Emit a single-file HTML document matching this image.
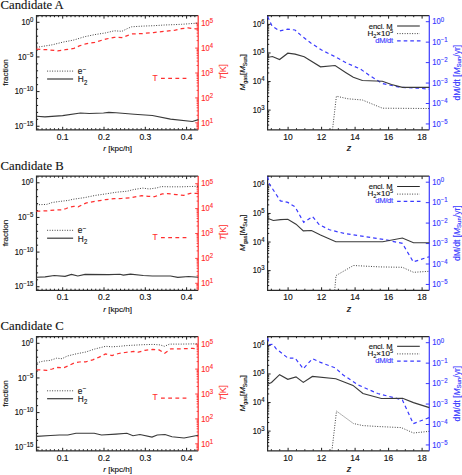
<!DOCTYPE html>
<html><head><meta charset="utf-8"><style>
html,body{margin:0;padding:0;background:#fff;width:462px;height:475px;overflow:hidden}
svg{display:block}
text{font-family:"Liberation Sans", sans-serif}
text.ser{font-family:"Liberation Serif", serif}
</style></head><body>
<svg width="462" height="475" viewBox="0 0 462 475">
<rect width="462" height="475" fill="#fff"/>
<g transform="translate(0,0.0)">
<g transform="translate(0.6,9.2)"><text x="0" y="0" class="ser" font-size="12.7" fill="#111" stroke="#111" stroke-width="0.12">Candidate A</text></g>
<path d="M37.92 129.80L37.92 128.20M37.92 15.60L37.92 17.20M42.05 129.80L42.05 128.20M42.05 15.60L42.05 17.20M46.18 129.80L46.18 128.20M46.18 15.60L46.18 17.20M50.31 129.80L50.31 128.20M50.31 15.60L50.31 17.20M54.44 129.80L54.44 128.20M54.44 15.60L54.44 17.20M58.57 129.80L58.57 128.20M58.57 15.60L58.57 17.20M62.70 129.80L62.70 126.80M62.70 15.60L62.70 18.60M66.83 129.80L66.83 128.20M66.83 15.60L66.83 17.20M70.96 129.80L70.96 128.20M70.96 15.60L70.96 17.20M75.09 129.80L75.09 128.20M75.09 15.60L75.09 17.20M79.22 129.80L79.22 128.20M79.22 15.60L79.22 17.20M83.35 129.80L83.35 128.20M83.35 15.60L83.35 17.20M87.48 129.80L87.48 128.20M87.48 15.60L87.48 17.20M91.61 129.80L91.61 128.20M91.61 15.60L91.61 17.20M95.74 129.80L95.74 128.20M95.74 15.60L95.74 17.20M99.87 129.80L99.87 128.20M99.87 15.60L99.87 17.20M104.00 129.80L104.00 126.80M104.00 15.60L104.00 18.60M108.13 129.80L108.13 128.20M108.13 15.60L108.13 17.20M112.26 129.80L112.26 128.20M112.26 15.60L112.26 17.20M116.39 129.80L116.39 128.20M116.39 15.60L116.39 17.20M120.52 129.80L120.52 128.20M120.52 15.60L120.52 17.20M124.65 129.80L124.65 128.20M124.65 15.60L124.65 17.20M128.78 129.80L128.78 128.20M128.78 15.60L128.78 17.20M132.91 129.80L132.91 128.20M132.91 15.60L132.91 17.20M137.04 129.80L137.04 128.20M137.04 15.60L137.04 17.20M141.17 129.80L141.17 128.20M141.17 15.60L141.17 17.20M145.30 129.80L145.30 126.80M145.30 15.60L145.30 18.60M149.43 129.80L149.43 128.20M149.43 15.60L149.43 17.20M153.56 129.80L153.56 128.20M153.56 15.60L153.56 17.20M157.69 129.80L157.69 128.20M157.69 15.60L157.69 17.20M161.82 129.80L161.82 128.20M161.82 15.60L161.82 17.20M165.95 129.80L165.95 128.20M165.95 15.60L165.95 17.20M170.08 129.80L170.08 128.20M170.08 15.60L170.08 17.20M174.21 129.80L174.21 128.20M174.21 15.60L174.21 17.20M178.34 129.80L178.34 128.20M178.34 15.60L178.34 17.20M182.47 129.80L182.47 128.20M182.47 15.60L182.47 17.20M186.60 129.80L186.60 126.80M186.60 15.60L186.60 18.60M190.73 129.80L190.73 128.20M190.73 15.60L190.73 17.20M194.86 129.80L194.86 128.20M194.86 15.60L194.86 17.20M36.50 22.30L39.50 22.30M36.50 29.23L38.10 29.23M36.50 36.16L38.10 36.16M36.50 43.09L38.10 43.09M36.50 50.02L38.10 50.02M36.50 56.95L39.50 56.95M36.50 63.88L38.10 63.88M36.50 70.81L38.10 70.81M36.50 77.74L38.10 77.74M36.50 84.67L38.10 84.67M36.50 91.60L39.50 91.60M36.50 98.53L38.10 98.53M36.50 105.46L38.10 105.46M36.50 112.39L38.10 112.39M36.50 119.32L38.10 119.32M36.50 126.25L39.50 126.25" stroke="#000" stroke-width="0.9" fill="none"/>
<path d="M198.20 122.80L195.20 122.80M198.20 115.30L196.60 115.30M198.20 110.92L196.60 110.92M198.20 107.81L196.60 107.81M198.20 105.40L196.60 105.40M198.20 103.42L196.60 103.42M198.20 101.76L196.60 101.76M198.20 100.31L196.60 100.31M198.20 99.04L196.60 99.04M198.20 97.90L195.20 97.90M198.20 90.40L196.60 90.40M198.20 86.02L196.60 86.02M198.20 82.91L196.60 82.91M198.20 80.50L196.60 80.50M198.20 78.52L196.60 78.52M198.20 76.86L196.60 76.86M198.20 75.41L196.60 75.41M198.20 74.14L196.60 74.14M198.20 73.00L195.20 73.00M198.20 65.50L196.60 65.50M198.20 61.12L196.60 61.12M198.20 58.01L196.60 58.01M198.20 55.60L196.60 55.60M198.20 53.62L196.60 53.62M198.20 51.96L196.60 51.96M198.20 50.51L196.60 50.51M198.20 49.24L196.60 49.24M198.20 48.10L195.20 48.10M198.20 40.60L196.60 40.60M198.20 36.22L196.60 36.22M198.20 33.11L196.60 33.11M198.20 30.70L196.60 30.70M198.20 28.72L196.60 28.72M198.20 27.06L196.60 27.06M198.20 25.61L196.60 25.61M198.20 24.34L196.60 24.34M198.20 23.20L195.20 23.20M198.20 128.32L196.40 128.32M198.20 126.66L196.40 126.66M198.20 125.21L196.40 125.21M198.20 123.94L196.40 123.94" stroke="#ff3030" stroke-width="0.9" fill="none"/>
<path d="M198.2 15.6H36.5V129.8H198.2" stroke="#2a2a2a" stroke-width="1.2" fill="none"/>
<path d="M198.2 15.6V129.8" stroke="#ff3030" stroke-width="1.2" fill="none"/>
<polyline points="36.5,47.2 38.7,47.0 52.2,44.8 63.0,42.1 73.9,40.0 84.7,36.7 94.8,34.6 105.6,32.9 114.3,30.8 121.9,31.3 127.3,28.6 131.6,26.8 142.8,26.1 153.6,25.7 164.5,25.0 175.3,24.6 181.6,24.3 192.5,23.5 198.2,23.1" stroke="#444" stroke-width="1" stroke-dasharray="1 1.5" fill="none"/>
<polyline points="36.5,49.2 46.8,49.7 57.6,50.8 65.2,49.7 73.9,48.4 79.3,45.9 85.8,43.8 94.8,42.4 105.6,39.1 114.3,37.3 121.9,37.6 127.3,35.6 131.6,34.0 142.8,33.5 153.6,32.6 164.5,31.3 175.3,30.2 181.6,28.6 188.1,27.9 195.7,28.9 198.2,29.2" stroke="#ff3030" stroke-width="1.25" stroke-dasharray="3.8 3.2" fill="none"/>
<polyline points="36.5,116.3 44.9,116.9 62.6,115.6 80.4,113.0 89.3,113.5 103.5,113.0 108.8,112.4 116.0,112.7 134.2,114.2 152.4,115.5 170.5,119.1 192.4,121.5 198.4,119.6" stroke="#3a3a3a" stroke-width="1.15" fill="none"/>
<g transform="translate(0,0.3)">
<path d="M47.1 70.8H73.1" stroke="#444" stroke-width="1" stroke-dasharray="1 1.5"/>
<path d="M47.1 78.7H73.1" stroke="#3a3a3a" stroke-width="1.2"/>
<text x="77.7" y="73.8" font-size="8.3" fill="#111" stroke="#111" stroke-width="0.14">e<tspan font-size="6.2" dy="-2.5" dx="0.4">&#8722;</tspan></text>
<g transform="translate(77.7,82) scale(1,1.08)"><text x="0" y="0" font-size="8.3" fill="#111" stroke="#111" stroke-width="0.14">H<tspan font-size="6" dy="2.2" dx="0.3">2</tspan></text></g>
<text x="152.6" y="80.3" font-size="8.5" fill="#ff3030" stroke="#ff3030" stroke-width="0.14">T</text>
<path d="M161 78.1H187" stroke="#ff3030" stroke-width="1.25" stroke-dasharray="3.8 3.4"/>
</g>
<g transform="translate(33.30,24.90) scale(1,1.12)"><text x="0" y="0" fill="#111" font-size="7.6" text-anchor="end" stroke="#111" stroke-width="0.14">10<tspan font-size="6.0" dy="-2.55">0</tspan></text></g>
<g transform="translate(33.30,59.55) scale(1,1.12)"><text x="0" y="0" fill="#111" font-size="7.6" text-anchor="end" stroke="#111" stroke-width="0.14">10<tspan font-size="6.0" dy="-2.55">&#8722;5</tspan></text></g>
<g transform="translate(33.30,94.20) scale(1,1.12)"><text x="0" y="0" fill="#111" font-size="7.6" text-anchor="end" stroke="#111" stroke-width="0.14">10<tspan font-size="6.0" dy="-2.55">&#8722;10</tspan></text></g>
<g transform="translate(33.30,128.85) scale(1,1.12)"><text x="0" y="0" fill="#111" font-size="7.6" text-anchor="end" stroke="#111" stroke-width="0.14">10<tspan font-size="6.0" dy="-2.55">&#8722;15</tspan></text></g>
<text transform="translate(7.9,72.6) rotate(-90)" font-size="8.1" text-anchor="middle" fill="#111" stroke="#111" stroke-width="0.14">fraction</text>
<text x="62.7" y="139.8" font-size="8.5" text-anchor="middle" fill="#111" stroke="#111" stroke-width="0.14">0.1</text>
<text x="104.0" y="139.8" font-size="8.5" text-anchor="middle" fill="#111" stroke="#111" stroke-width="0.14">0.2</text>
<text x="145.3" y="139.8" font-size="8.5" text-anchor="middle" fill="#111" stroke="#111" stroke-width="0.14">0.3</text>
<text x="186.6" y="139.8" font-size="8.5" text-anchor="middle" fill="#111" stroke="#111" stroke-width="0.14">0.4</text>
<text x="117.6" y="151.2" font-size="8.1" text-anchor="middle" fill="#111" stroke="#111" stroke-width="0.14"><tspan font-style="italic">r</tspan> [kpc/h]</text>
<g transform="translate(201.30,125.55) scale(1,1.12)"><text x="0" y="0" fill="#ff3030" font-size="7.6" text-anchor="start" stroke="#ff3030" stroke-width="0.14">10<tspan font-size="6.0" dy="-2.55">1</tspan></text></g>
<g transform="translate(201.30,100.65) scale(1,1.12)"><text x="0" y="0" fill="#ff3030" font-size="7.6" text-anchor="start" stroke="#ff3030" stroke-width="0.14">10<tspan font-size="6.0" dy="-2.55">2</tspan></text></g>
<g transform="translate(201.30,75.75) scale(1,1.12)"><text x="0" y="0" fill="#ff3030" font-size="7.6" text-anchor="start" stroke="#ff3030" stroke-width="0.14">10<tspan font-size="6.0" dy="-2.55">3</tspan></text></g>
<g transform="translate(201.30,50.85) scale(1,1.12)"><text x="0" y="0" fill="#ff3030" font-size="7.6" text-anchor="start" stroke="#ff3030" stroke-width="0.14">10<tspan font-size="6.0" dy="-2.55">4</tspan></text></g>
<g transform="translate(201.30,25.95) scale(1,1.12)"><text x="0" y="0" fill="#ff3030" font-size="7.6" text-anchor="start" stroke="#ff3030" stroke-width="0.14">10<tspan font-size="6.0" dy="-2.55">5</tspan></text></g>
<text transform="translate(225.5,72) rotate(-90)" font-size="8.5" text-anchor="middle" fill="#ff3030" stroke="#ff3030" stroke-width="0.14"><tspan font-style="italic">T</tspan>[K]</text>
<path d="M271.35 129.80L271.35 128.20M271.35 15.60L271.35 17.20M279.73 129.80L279.73 128.20M279.73 15.60L279.73 17.20M288.10 129.80L288.10 126.80M288.10 15.60L288.10 18.60M296.48 129.80L296.48 128.20M296.48 15.60L296.48 17.20M304.85 129.80L304.85 128.20M304.85 15.60L304.85 17.20M313.23 129.80L313.23 128.20M313.23 15.60L313.23 17.20M321.60 129.80L321.60 126.80M321.60 15.60L321.60 18.60M329.98 129.80L329.98 128.20M329.98 15.60L329.98 17.20M338.35 129.80L338.35 128.20M338.35 15.60L338.35 17.20M346.73 129.80L346.73 128.20M346.73 15.60L346.73 17.20M355.10 129.80L355.10 126.80M355.10 15.60L355.10 18.60M363.48 129.80L363.48 128.20M363.48 15.60L363.48 17.20M371.85 129.80L371.85 128.20M371.85 15.60L371.85 17.20M380.23 129.80L380.23 128.20M380.23 15.60L380.23 17.20M388.60 129.80L388.60 126.80M388.60 15.60L388.60 18.60M396.98 129.80L396.98 128.20M396.98 15.60L396.98 17.20M405.35 129.80L405.35 128.20M405.35 15.60L405.35 17.20M413.73 129.80L413.73 128.20M413.73 15.60L413.73 17.20M422.10 129.80L422.10 126.80M422.10 15.60L422.10 18.60M267.60 125.05L269.20 125.05M267.60 121.48L269.20 121.48M267.60 118.71L269.20 118.71M267.60 116.45L269.20 116.45M267.60 114.54L269.20 114.54M267.60 112.88L269.20 112.88M267.60 111.42L269.20 111.42M267.60 110.11L270.60 110.11M267.60 101.51L269.20 101.51M267.60 96.48L269.20 96.48M267.60 92.91L269.20 92.91M267.60 90.14L269.20 90.14M267.60 87.88L269.20 87.88M267.60 85.97L269.20 85.97M267.60 84.31L269.20 84.31M267.60 82.85L269.20 82.85M267.60 81.54L270.60 81.54M267.60 72.94L269.20 72.94M267.60 67.91L269.20 67.91M267.60 64.34L269.20 64.34M267.60 61.57L269.20 61.57M267.60 59.31L269.20 59.31M267.60 57.40L269.20 57.40M267.60 55.74L269.20 55.74M267.60 54.28L269.20 54.28M267.60 52.97L270.60 52.97M267.60 44.37L269.20 44.37M267.60 39.34L269.20 39.34M267.60 35.77L269.20 35.77M267.60 33.00L269.20 33.00M267.60 30.74L269.20 30.74M267.60 28.83L269.20 28.83M267.60 27.17L269.20 27.17M267.60 25.71L269.20 25.71M267.60 24.40L270.60 24.40M267.60 15.80L269.20 15.80" stroke="#000" stroke-width="0.9" fill="none"/>
<path d="M429.30 21.70L425.80 21.70M429.30 42.15L425.80 42.15M429.30 62.60L425.80 62.60M429.30 83.05L425.80 83.05M429.30 103.50L425.80 103.50M429.30 123.95L425.80 123.95" stroke="#3a3aff" stroke-width="1.0" fill="none"/>
<path d="M429.3 15.6H267.6V129.8H429.3" stroke="#2a2a2a" stroke-width="1.2" fill="none"/>
<path d="M429.3 15.6V129.8" stroke="#3a3aff" stroke-width="1.2" fill="none"/>
<polyline points="267.6,16.6 272.0,26.0 279.5,31.0 287.5,29.2 295.0,30.0 300.5,34.9 310.8,43.0 321.6,50.0 334.6,56.5 347.6,63.5 360.5,69.1 369.6,75.5 382.4,83.6 400.5,87.3 418.7,88.2 429.3,89.1" stroke="#3a3aff" stroke-width="1.2" stroke-dasharray="3.6 3" fill="none"/>
<polyline points="267.6,54.1 268.7,57.2 272.4,56.5 279.6,59.5 287.8,53.2 295.1,54.1 304.2,56.8 320.5,66.8 335.1,65.5 346.0,72.7 353.3,77.3 362.4,80.5 382.4,81.3 391.5,84.5 402.4,87.3 429.3,87.3" stroke="#3a3a3a" stroke-width="1.15" fill="none"/>
<polyline points="332.5,129.8 336.4,96.2 348.0,98.8 362.4,100.0 382.4,108.2 429.3,108.5" stroke="#444" stroke-width="1" stroke-dasharray="1 1.5" fill="none"/>
<g transform="translate(0,0)">
<text x="392.6" y="28.8" font-size="7.6" letter-spacing="-0.1" text-anchor="end" fill="#111" stroke="#111" stroke-width="0.14">encl. M</text>
<path d="M397.1 26H419.8" stroke="#2a2a2a" stroke-width="1.05"/>
<text x="393" y="35.8" font-size="8" text-anchor="end" fill="#111" stroke="#111" stroke-width="0.14">H<tspan font-size="5.5" dy="1.8">2</tspan><tspan dy="-1.8">&#215;10</tspan><tspan font-size="5.5" dy="-3.2">5</tspan></text>
<path d="M397.1 33.6H419.8" stroke="#444" stroke-width="1" stroke-dasharray="1 1.5"/>
<text x="392.8" y="42.6" font-size="7.6" letter-spacing="-0.3" text-anchor="end" fill="#3a3aff" stroke="#3a3aff" stroke-width="0.14">dM/dt</text>
<path d="M397.1 40.8H421" stroke="#3a3aff" stroke-width="1.2" stroke-dasharray="3.6 3"/>
</g>
<g transform="translate(264.50,112.61) scale(1,1.12)"><text x="0" y="0" fill="#111" font-size="7.6" text-anchor="end" stroke="#111" stroke-width="0.14">10<tspan font-size="6.0" dy="-2.55">3</tspan></text></g>
<g transform="translate(264.50,84.04) scale(1,1.12)"><text x="0" y="0" fill="#111" font-size="7.6" text-anchor="end" stroke="#111" stroke-width="0.14">10<tspan font-size="6.0" dy="-2.55">4</tspan></text></g>
<g transform="translate(264.50,55.47) scale(1,1.12)"><text x="0" y="0" fill="#111" font-size="7.6" text-anchor="end" stroke="#111" stroke-width="0.14">10<tspan font-size="6.0" dy="-2.55">5</tspan></text></g>
<g transform="translate(264.50,26.90) scale(1,1.12)"><text x="0" y="0" fill="#111" font-size="7.6" text-anchor="end" stroke="#111" stroke-width="0.14">10<tspan font-size="6.0" dy="-2.55">6</tspan></text></g>
<text transform="translate(245.2,72.4) rotate(-90)" font-size="8" text-anchor="middle" fill="#111" stroke="#111" stroke-width="0.14"><tspan font-style="italic">M</tspan><tspan font-size="5.4" dy="1.6">gas</tspan><tspan dy="-1.6">[</tspan><tspan font-style="italic">M</tspan><tspan font-size="5.4" dy="1.6">Sun</tspan><tspan dy="-1.6">]</tspan></text>
<text x="288.1" y="139.8" font-size="8.5" text-anchor="middle" fill="#111" stroke="#111" stroke-width="0.14">10</text>
<text x="321.6" y="139.8" font-size="8.5" text-anchor="middle" fill="#111" stroke="#111" stroke-width="0.14">12</text>
<text x="355.1" y="139.8" font-size="8.5" text-anchor="middle" fill="#111" stroke="#111" stroke-width="0.14">14</text>
<text x="388.6" y="139.8" font-size="8.5" text-anchor="middle" fill="#111" stroke="#111" stroke-width="0.14">16</text>
<text x="422.1" y="139.8" font-size="8.5" text-anchor="middle" fill="#111" stroke="#111" stroke-width="0.14">18</text>
<text x="349" y="151.2" font-size="9" font-style="italic" text-anchor="middle" fill="#111" stroke="#111" stroke-width="0.14">z</text>
<g transform="translate(432.20,24.40) scale(1,1.12)"><text x="0" y="0" fill="#3a3aff" font-size="7.6" text-anchor="start" stroke="#3a3aff" stroke-width="0.14">10<tspan font-size="6.0" dy="-2.55">0</tspan></text></g>
<g transform="translate(432.20,44.85) scale(1,1.12)"><text x="0" y="0" fill="#3a3aff" font-size="7.6" text-anchor="start" stroke="#3a3aff" stroke-width="0.14">10<tspan font-size="6.0" dy="-2.55">&#8722;1</tspan></text></g>
<g transform="translate(432.20,65.30) scale(1,1.12)"><text x="0" y="0" fill="#3a3aff" font-size="7.6" text-anchor="start" stroke="#3a3aff" stroke-width="0.14">10<tspan font-size="6.0" dy="-2.55">&#8722;2</tspan></text></g>
<g transform="translate(432.20,85.75) scale(1,1.12)"><text x="0" y="0" fill="#3a3aff" font-size="7.6" text-anchor="start" stroke="#3a3aff" stroke-width="0.14">10<tspan font-size="6.0" dy="-2.55">&#8722;3</tspan></text></g>
<g transform="translate(432.20,106.20) scale(1,1.12)"><text x="0" y="0" fill="#3a3aff" font-size="7.6" text-anchor="start" stroke="#3a3aff" stroke-width="0.14">10<tspan font-size="6.0" dy="-2.55">&#8722;4</tspan></text></g>
<g transform="translate(432.20,126.65) scale(1,1.12)"><text x="0" y="0" fill="#3a3aff" font-size="7.6" text-anchor="start" stroke="#3a3aff" stroke-width="0.14">10<tspan font-size="6.0" dy="-2.55">&#8722;5</tspan></text></g>
<text transform="translate(459.5,72.7) rotate(-90)" font-size="8.5" text-anchor="middle" fill="#3a3aff" stroke="#3a3aff" stroke-width="0.14">dM/dt [<tspan font-style="italic">M</tspan><tspan font-size="6" dy="1.8">Sun</tspan><tspan dy="-1.8">/yr]</tspan></text>
</g>
<g transform="translate(0,160.5)">
<g transform="translate(0.6,9.2)"><text x="0" y="0" class="ser" font-size="12.7" fill="#111" stroke="#111" stroke-width="0.12">Candidate B</text></g>
<path d="M37.92 129.80L37.92 128.20M37.92 15.60L37.92 17.20M42.05 129.80L42.05 128.20M42.05 15.60L42.05 17.20M46.18 129.80L46.18 128.20M46.18 15.60L46.18 17.20M50.31 129.80L50.31 128.20M50.31 15.60L50.31 17.20M54.44 129.80L54.44 128.20M54.44 15.60L54.44 17.20M58.57 129.80L58.57 128.20M58.57 15.60L58.57 17.20M62.70 129.80L62.70 126.80M62.70 15.60L62.70 18.60M66.83 129.80L66.83 128.20M66.83 15.60L66.83 17.20M70.96 129.80L70.96 128.20M70.96 15.60L70.96 17.20M75.09 129.80L75.09 128.20M75.09 15.60L75.09 17.20M79.22 129.80L79.22 128.20M79.22 15.60L79.22 17.20M83.35 129.80L83.35 128.20M83.35 15.60L83.35 17.20M87.48 129.80L87.48 128.20M87.48 15.60L87.48 17.20M91.61 129.80L91.61 128.20M91.61 15.60L91.61 17.20M95.74 129.80L95.74 128.20M95.74 15.60L95.74 17.20M99.87 129.80L99.87 128.20M99.87 15.60L99.87 17.20M104.00 129.80L104.00 126.80M104.00 15.60L104.00 18.60M108.13 129.80L108.13 128.20M108.13 15.60L108.13 17.20M112.26 129.80L112.26 128.20M112.26 15.60L112.26 17.20M116.39 129.80L116.39 128.20M116.39 15.60L116.39 17.20M120.52 129.80L120.52 128.20M120.52 15.60L120.52 17.20M124.65 129.80L124.65 128.20M124.65 15.60L124.65 17.20M128.78 129.80L128.78 128.20M128.78 15.60L128.78 17.20M132.91 129.80L132.91 128.20M132.91 15.60L132.91 17.20M137.04 129.80L137.04 128.20M137.04 15.60L137.04 17.20M141.17 129.80L141.17 128.20M141.17 15.60L141.17 17.20M145.30 129.80L145.30 126.80M145.30 15.60L145.30 18.60M149.43 129.80L149.43 128.20M149.43 15.60L149.43 17.20M153.56 129.80L153.56 128.20M153.56 15.60L153.56 17.20M157.69 129.80L157.69 128.20M157.69 15.60L157.69 17.20M161.82 129.80L161.82 128.20M161.82 15.60L161.82 17.20M165.95 129.80L165.95 128.20M165.95 15.60L165.95 17.20M170.08 129.80L170.08 128.20M170.08 15.60L170.08 17.20M174.21 129.80L174.21 128.20M174.21 15.60L174.21 17.20M178.34 129.80L178.34 128.20M178.34 15.60L178.34 17.20M182.47 129.80L182.47 128.20M182.47 15.60L182.47 17.20M186.60 129.80L186.60 126.80M186.60 15.60L186.60 18.60M190.73 129.80L190.73 128.20M190.73 15.60L190.73 17.20M194.86 129.80L194.86 128.20M194.86 15.60L194.86 17.20M36.50 22.30L39.50 22.30M36.50 29.23L38.10 29.23M36.50 36.16L38.10 36.16M36.50 43.09L38.10 43.09M36.50 50.02L38.10 50.02M36.50 56.95L39.50 56.95M36.50 63.88L38.10 63.88M36.50 70.81L38.10 70.81M36.50 77.74L38.10 77.74M36.50 84.67L38.10 84.67M36.50 91.60L39.50 91.60M36.50 98.53L38.10 98.53M36.50 105.46L38.10 105.46M36.50 112.39L38.10 112.39M36.50 119.32L38.10 119.32M36.50 126.25L39.50 126.25" stroke="#000" stroke-width="0.9" fill="none"/>
<path d="M198.20 122.80L195.20 122.80M198.20 115.30L196.60 115.30M198.20 110.92L196.60 110.92M198.20 107.81L196.60 107.81M198.20 105.40L196.60 105.40M198.20 103.42L196.60 103.42M198.20 101.76L196.60 101.76M198.20 100.31L196.60 100.31M198.20 99.04L196.60 99.04M198.20 97.90L195.20 97.90M198.20 90.40L196.60 90.40M198.20 86.02L196.60 86.02M198.20 82.91L196.60 82.91M198.20 80.50L196.60 80.50M198.20 78.52L196.60 78.52M198.20 76.86L196.60 76.86M198.20 75.41L196.60 75.41M198.20 74.14L196.60 74.14M198.20 73.00L195.20 73.00M198.20 65.50L196.60 65.50M198.20 61.12L196.60 61.12M198.20 58.01L196.60 58.01M198.20 55.60L196.60 55.60M198.20 53.62L196.60 53.62M198.20 51.96L196.60 51.96M198.20 50.51L196.60 50.51M198.20 49.24L196.60 49.24M198.20 48.10L195.20 48.10M198.20 40.60L196.60 40.60M198.20 36.22L196.60 36.22M198.20 33.11L196.60 33.11M198.20 30.70L196.60 30.70M198.20 28.72L196.60 28.72M198.20 27.06L196.60 27.06M198.20 25.61L196.60 25.61M198.20 24.34L196.60 24.34M198.20 23.20L195.20 23.20M198.20 128.32L196.40 128.32M198.20 126.66L196.40 126.66M198.20 125.21L196.40 125.21M198.20 123.94L196.40 123.94" stroke="#ff3030" stroke-width="0.9" fill="none"/>
<path d="M198.2 15.6H36.5V129.8H198.2" stroke="#2a2a2a" stroke-width="1.2" fill="none"/>
<path d="M198.2 15.6V129.8" stroke="#ff3030" stroke-width="1.2" fill="none"/>
<polyline points="36.5,44.3 38.2,44.2 46.8,43.9 52.2,42.0 59.8,40.9 68.5,39.9 72.8,38.8 84.7,37.1 94.8,35.0 105.6,33.4 116.5,31.7 127.3,30.7 133.8,29.0 142.8,27.6 149.3,28.5 156.9,27.4 161.2,26.1 169.9,26.3 181.8,26.3 190.3,26.0 198.2,25.8" stroke="#444" stroke-width="1" stroke-dasharray="1 1.5" fill="none"/>
<polyline points="36.5,50.8 38.2,50.7 46.8,50.3 54.4,49.6 62.0,49.3 66.3,48.0 68.5,46.9 73.9,45.8 78.2,46.3 81.5,44.7 85.8,42.6 94.8,40.9 105.6,39.1 114.3,38.2 121.9,37.9 129.5,37.4 133.8,36.6 141.7,35.2 148.2,35.8 154.7,36.1 162.3,33.4 167.7,33.1 176.2,34.1 183.8,34.8 190.3,32.8 198.2,32.8" stroke="#ff3030" stroke-width="1.25" stroke-dasharray="3.8 3.2" fill="none"/>
<polyline points="36.5,116.8 45.1,116.4 54.2,115.0 65.1,115.9 71.5,113.9 77.8,115.5 85.1,113.9 108.7,114.1 120.0,113.8 123.3,114.6 130.5,113.7 143.3,115.0 152.4,115.5 170.5,115.5 177.8,116.8 188.7,116.0 198.2,116.8" stroke="#3a3a3a" stroke-width="1.15" fill="none"/>
<g transform="translate(0,-1.0)">
<path d="M47.1 70.8H73.1" stroke="#444" stroke-width="1" stroke-dasharray="1 1.5"/>
<path d="M47.1 78.7H73.1" stroke="#3a3a3a" stroke-width="1.2"/>
<text x="77.7" y="73.8" font-size="8.3" fill="#111" stroke="#111" stroke-width="0.14">e<tspan font-size="6.2" dy="-2.5" dx="0.4">&#8722;</tspan></text>
<g transform="translate(77.7,82) scale(1,1.08)"><text x="0" y="0" font-size="8.3" fill="#111" stroke="#111" stroke-width="0.14">H<tspan font-size="6" dy="2.2" dx="0.3">2</tspan></text></g>
<text x="152.6" y="80.3" font-size="8.5" fill="#ff3030" stroke="#ff3030" stroke-width="0.14">T</text>
<path d="M161 78.1H187" stroke="#ff3030" stroke-width="1.25" stroke-dasharray="3.8 3.4"/>
</g>
<g transform="translate(33.30,24.90) scale(1,1.12)"><text x="0" y="0" fill="#111" font-size="7.6" text-anchor="end" stroke="#111" stroke-width="0.14">10<tspan font-size="6.0" dy="-2.55">0</tspan></text></g>
<g transform="translate(33.30,59.55) scale(1,1.12)"><text x="0" y="0" fill="#111" font-size="7.6" text-anchor="end" stroke="#111" stroke-width="0.14">10<tspan font-size="6.0" dy="-2.55">&#8722;5</tspan></text></g>
<g transform="translate(33.30,94.20) scale(1,1.12)"><text x="0" y="0" fill="#111" font-size="7.6" text-anchor="end" stroke="#111" stroke-width="0.14">10<tspan font-size="6.0" dy="-2.55">&#8722;10</tspan></text></g>
<g transform="translate(33.30,128.85) scale(1,1.12)"><text x="0" y="0" fill="#111" font-size="7.6" text-anchor="end" stroke="#111" stroke-width="0.14">10<tspan font-size="6.0" dy="-2.55">&#8722;15</tspan></text></g>
<text transform="translate(7.9,72.6) rotate(-90)" font-size="8.1" text-anchor="middle" fill="#111" stroke="#111" stroke-width="0.14">fraction</text>
<text x="62.7" y="139.8" font-size="8.5" text-anchor="middle" fill="#111" stroke="#111" stroke-width="0.14">0.1</text>
<text x="104.0" y="139.8" font-size="8.5" text-anchor="middle" fill="#111" stroke="#111" stroke-width="0.14">0.2</text>
<text x="145.3" y="139.8" font-size="8.5" text-anchor="middle" fill="#111" stroke="#111" stroke-width="0.14">0.3</text>
<text x="186.6" y="139.8" font-size="8.5" text-anchor="middle" fill="#111" stroke="#111" stroke-width="0.14">0.4</text>
<text x="117.6" y="151.2" font-size="8.1" text-anchor="middle" fill="#111" stroke="#111" stroke-width="0.14"><tspan font-style="italic">r</tspan> [kpc/h]</text>
<g transform="translate(201.30,125.55) scale(1,1.12)"><text x="0" y="0" fill="#ff3030" font-size="7.6" text-anchor="start" stroke="#ff3030" stroke-width="0.14">10<tspan font-size="6.0" dy="-2.55">1</tspan></text></g>
<g transform="translate(201.30,100.65) scale(1,1.12)"><text x="0" y="0" fill="#ff3030" font-size="7.6" text-anchor="start" stroke="#ff3030" stroke-width="0.14">10<tspan font-size="6.0" dy="-2.55">2</tspan></text></g>
<g transform="translate(201.30,75.75) scale(1,1.12)"><text x="0" y="0" fill="#ff3030" font-size="7.6" text-anchor="start" stroke="#ff3030" stroke-width="0.14">10<tspan font-size="6.0" dy="-2.55">3</tspan></text></g>
<g transform="translate(201.30,50.85) scale(1,1.12)"><text x="0" y="0" fill="#ff3030" font-size="7.6" text-anchor="start" stroke="#ff3030" stroke-width="0.14">10<tspan font-size="6.0" dy="-2.55">4</tspan></text></g>
<g transform="translate(201.30,25.95) scale(1,1.12)"><text x="0" y="0" fill="#ff3030" font-size="7.6" text-anchor="start" stroke="#ff3030" stroke-width="0.14">10<tspan font-size="6.0" dy="-2.55">5</tspan></text></g>
<text transform="translate(225.5,72) rotate(-90)" font-size="8.5" text-anchor="middle" fill="#ff3030" stroke="#ff3030" stroke-width="0.14"><tspan font-style="italic">T</tspan>[K]</text>
<path d="M271.35 129.80L271.35 128.20M271.35 15.60L271.35 17.20M279.73 129.80L279.73 128.20M279.73 15.60L279.73 17.20M288.10 129.80L288.10 126.80M288.10 15.60L288.10 18.60M296.48 129.80L296.48 128.20M296.48 15.60L296.48 17.20M304.85 129.80L304.85 128.20M304.85 15.60L304.85 17.20M313.23 129.80L313.23 128.20M313.23 15.60L313.23 17.20M321.60 129.80L321.60 126.80M321.60 15.60L321.60 18.60M329.98 129.80L329.98 128.20M329.98 15.60L329.98 17.20M338.35 129.80L338.35 128.20M338.35 15.60L338.35 17.20M346.73 129.80L346.73 128.20M346.73 15.60L346.73 17.20M355.10 129.80L355.10 126.80M355.10 15.60L355.10 18.60M363.48 129.80L363.48 128.20M363.48 15.60L363.48 17.20M371.85 129.80L371.85 128.20M371.85 15.60L371.85 17.20M380.23 129.80L380.23 128.20M380.23 15.60L380.23 17.20M388.60 129.80L388.60 126.80M388.60 15.60L388.60 18.60M396.98 129.80L396.98 128.20M396.98 15.60L396.98 17.20M405.35 129.80L405.35 128.20M405.35 15.60L405.35 17.20M413.73 129.80L413.73 128.20M413.73 15.60L413.73 17.20M422.10 129.80L422.10 126.80M422.10 15.60L422.10 18.60M267.60 125.05L269.20 125.05M267.60 121.48L269.20 121.48M267.60 118.71L269.20 118.71M267.60 116.45L269.20 116.45M267.60 114.54L269.20 114.54M267.60 112.88L269.20 112.88M267.60 111.42L269.20 111.42M267.60 110.11L270.60 110.11M267.60 101.51L269.20 101.51M267.60 96.48L269.20 96.48M267.60 92.91L269.20 92.91M267.60 90.14L269.20 90.14M267.60 87.88L269.20 87.88M267.60 85.97L269.20 85.97M267.60 84.31L269.20 84.31M267.60 82.85L269.20 82.85M267.60 81.54L270.60 81.54M267.60 72.94L269.20 72.94M267.60 67.91L269.20 67.91M267.60 64.34L269.20 64.34M267.60 61.57L269.20 61.57M267.60 59.31L269.20 59.31M267.60 57.40L269.20 57.40M267.60 55.74L269.20 55.74M267.60 54.28L269.20 54.28M267.60 52.97L270.60 52.97M267.60 44.37L269.20 44.37M267.60 39.34L269.20 39.34M267.60 35.77L269.20 35.77M267.60 33.00L269.20 33.00M267.60 30.74L269.20 30.74M267.60 28.83L269.20 28.83M267.60 27.17L269.20 27.17M267.60 25.71L269.20 25.71M267.60 24.40L270.60 24.40M267.60 15.80L269.20 15.80" stroke="#000" stroke-width="0.9" fill="none"/>
<path d="M429.30 21.70L425.80 21.70M429.30 42.15L425.80 42.15M429.30 62.60L425.80 62.60M429.30 83.05L425.80 83.05M429.30 103.50L425.80 103.50M429.30 123.95L425.80 123.95" stroke="#3a3aff" stroke-width="1.0" fill="none"/>
<path d="M429.3 15.6H267.6V129.8H429.3" stroke="#2a2a2a" stroke-width="1.2" fill="none"/>
<path d="M429.3 15.6V129.8" stroke="#3a3aff" stroke-width="1.2" fill="none"/>
<polyline points="267.6,16.2 269.4,23.5 280.4,40.4 287.8,41.9 295.1,46.4 303.7,61.9 312.5,56.0 319.1,64.1 329.5,69.3 344.2,72.9 365.4,76.2 385.1,79.2 402.4,82.9 413.3,101.4 429.3,96.2" stroke="#3a3aff" stroke-width="1.2" stroke-dasharray="3.6 3" fill="none"/>
<polyline points="267.6,57.7 273.3,60.0 280.5,59.1 287.8,58.8 296.0,63.7 303.3,70.4 311.5,70.0 320.5,74.6 335.8,81.2 382.7,81.2 402.4,77.5 413.5,82.2 429.3,82.2" stroke="#3a3a3a" stroke-width="1.15" fill="none"/>
<polyline points="334.7,129.8 336.0,115.1 353.4,105.0 379.7,106.4 402.4,106.8 413.5,111.8 429.3,110.8" stroke="#444" stroke-width="1" stroke-dasharray="1 1.5" fill="none"/>
<g transform="translate(0,0)">
<text x="392.6" y="28.8" font-size="7.6" letter-spacing="-0.1" text-anchor="end" fill="#111" stroke="#111" stroke-width="0.14">encl. M</text>
<path d="M397.1 26H419.8" stroke="#2a2a2a" stroke-width="1.05"/>
<text x="393" y="35.8" font-size="8" text-anchor="end" fill="#111" stroke="#111" stroke-width="0.14">H<tspan font-size="5.5" dy="1.8">2</tspan><tspan dy="-1.8">&#215;10</tspan><tspan font-size="5.5" dy="-3.2">5</tspan></text>
<path d="M397.1 33.6H419.8" stroke="#444" stroke-width="1" stroke-dasharray="1 1.5"/>
<text x="392.8" y="42.6" font-size="7.6" letter-spacing="-0.3" text-anchor="end" fill="#3a3aff" stroke="#3a3aff" stroke-width="0.14">dM/dt</text>
<path d="M397.1 40.8H421" stroke="#3a3aff" stroke-width="1.2" stroke-dasharray="3.6 3"/>
</g>
<g transform="translate(264.50,112.61) scale(1,1.12)"><text x="0" y="0" fill="#111" font-size="7.6" text-anchor="end" stroke="#111" stroke-width="0.14">10<tspan font-size="6.0" dy="-2.55">3</tspan></text></g>
<g transform="translate(264.50,84.04) scale(1,1.12)"><text x="0" y="0" fill="#111" font-size="7.6" text-anchor="end" stroke="#111" stroke-width="0.14">10<tspan font-size="6.0" dy="-2.55">4</tspan></text></g>
<g transform="translate(264.50,55.47) scale(1,1.12)"><text x="0" y="0" fill="#111" font-size="7.6" text-anchor="end" stroke="#111" stroke-width="0.14">10<tspan font-size="6.0" dy="-2.55">5</tspan></text></g>
<g transform="translate(264.50,26.90) scale(1,1.12)"><text x="0" y="0" fill="#111" font-size="7.6" text-anchor="end" stroke="#111" stroke-width="0.14">10<tspan font-size="6.0" dy="-2.55">6</tspan></text></g>
<text transform="translate(245.2,72.4) rotate(-90)" font-size="8" text-anchor="middle" fill="#111" stroke="#111" stroke-width="0.14"><tspan font-style="italic">M</tspan><tspan font-size="5.4" dy="1.6">gas</tspan><tspan dy="-1.6">[</tspan><tspan font-style="italic">M</tspan><tspan font-size="5.4" dy="1.6">Sun</tspan><tspan dy="-1.6">]</tspan></text>
<text x="288.1" y="139.8" font-size="8.5" text-anchor="middle" fill="#111" stroke="#111" stroke-width="0.14">10</text>
<text x="321.6" y="139.8" font-size="8.5" text-anchor="middle" fill="#111" stroke="#111" stroke-width="0.14">12</text>
<text x="355.1" y="139.8" font-size="8.5" text-anchor="middle" fill="#111" stroke="#111" stroke-width="0.14">14</text>
<text x="388.6" y="139.8" font-size="8.5" text-anchor="middle" fill="#111" stroke="#111" stroke-width="0.14">16</text>
<text x="422.1" y="139.8" font-size="8.5" text-anchor="middle" fill="#111" stroke="#111" stroke-width="0.14">18</text>
<text x="349" y="151.2" font-size="9" font-style="italic" text-anchor="middle" fill="#111" stroke="#111" stroke-width="0.14">z</text>
<g transform="translate(432.20,24.40) scale(1,1.12)"><text x="0" y="0" fill="#3a3aff" font-size="7.6" text-anchor="start" stroke="#3a3aff" stroke-width="0.14">10<tspan font-size="6.0" dy="-2.55">0</tspan></text></g>
<g transform="translate(432.20,44.85) scale(1,1.12)"><text x="0" y="0" fill="#3a3aff" font-size="7.6" text-anchor="start" stroke="#3a3aff" stroke-width="0.14">10<tspan font-size="6.0" dy="-2.55">&#8722;1</tspan></text></g>
<g transform="translate(432.20,65.30) scale(1,1.12)"><text x="0" y="0" fill="#3a3aff" font-size="7.6" text-anchor="start" stroke="#3a3aff" stroke-width="0.14">10<tspan font-size="6.0" dy="-2.55">&#8722;2</tspan></text></g>
<g transform="translate(432.20,85.75) scale(1,1.12)"><text x="0" y="0" fill="#3a3aff" font-size="7.6" text-anchor="start" stroke="#3a3aff" stroke-width="0.14">10<tspan font-size="6.0" dy="-2.55">&#8722;3</tspan></text></g>
<g transform="translate(432.20,106.20) scale(1,1.12)"><text x="0" y="0" fill="#3a3aff" font-size="7.6" text-anchor="start" stroke="#3a3aff" stroke-width="0.14">10<tspan font-size="6.0" dy="-2.55">&#8722;4</tspan></text></g>
<g transform="translate(432.20,126.65) scale(1,1.12)"><text x="0" y="0" fill="#3a3aff" font-size="7.6" text-anchor="start" stroke="#3a3aff" stroke-width="0.14">10<tspan font-size="6.0" dy="-2.55">&#8722;5</tspan></text></g>
<text transform="translate(459.5,72.7) rotate(-90)" font-size="8.5" text-anchor="middle" fill="#3a3aff" stroke="#3a3aff" stroke-width="0.14">dM/dt [<tspan font-style="italic">M</tspan><tspan font-size="6" dy="1.8">Sun</tspan><tspan dy="-1.8">/yr]</tspan></text>
</g>
<g transform="translate(0,321.0)">
<g transform="translate(0.6,9.2)"><text x="0" y="0" class="ser" font-size="12.7" fill="#111" stroke="#111" stroke-width="0.12">Candidate C</text></g>
<path d="M37.92 129.80L37.92 128.20M37.92 15.60L37.92 17.20M42.05 129.80L42.05 128.20M42.05 15.60L42.05 17.20M46.18 129.80L46.18 128.20M46.18 15.60L46.18 17.20M50.31 129.80L50.31 128.20M50.31 15.60L50.31 17.20M54.44 129.80L54.44 128.20M54.44 15.60L54.44 17.20M58.57 129.80L58.57 128.20M58.57 15.60L58.57 17.20M62.70 129.80L62.70 126.80M62.70 15.60L62.70 18.60M66.83 129.80L66.83 128.20M66.83 15.60L66.83 17.20M70.96 129.80L70.96 128.20M70.96 15.60L70.96 17.20M75.09 129.80L75.09 128.20M75.09 15.60L75.09 17.20M79.22 129.80L79.22 128.20M79.22 15.60L79.22 17.20M83.35 129.80L83.35 128.20M83.35 15.60L83.35 17.20M87.48 129.80L87.48 128.20M87.48 15.60L87.48 17.20M91.61 129.80L91.61 128.20M91.61 15.60L91.61 17.20M95.74 129.80L95.74 128.20M95.74 15.60L95.74 17.20M99.87 129.80L99.87 128.20M99.87 15.60L99.87 17.20M104.00 129.80L104.00 126.80M104.00 15.60L104.00 18.60M108.13 129.80L108.13 128.20M108.13 15.60L108.13 17.20M112.26 129.80L112.26 128.20M112.26 15.60L112.26 17.20M116.39 129.80L116.39 128.20M116.39 15.60L116.39 17.20M120.52 129.80L120.52 128.20M120.52 15.60L120.52 17.20M124.65 129.80L124.65 128.20M124.65 15.60L124.65 17.20M128.78 129.80L128.78 128.20M128.78 15.60L128.78 17.20M132.91 129.80L132.91 128.20M132.91 15.60L132.91 17.20M137.04 129.80L137.04 128.20M137.04 15.60L137.04 17.20M141.17 129.80L141.17 128.20M141.17 15.60L141.17 17.20M145.30 129.80L145.30 126.80M145.30 15.60L145.30 18.60M149.43 129.80L149.43 128.20M149.43 15.60L149.43 17.20M153.56 129.80L153.56 128.20M153.56 15.60L153.56 17.20M157.69 129.80L157.69 128.20M157.69 15.60L157.69 17.20M161.82 129.80L161.82 128.20M161.82 15.60L161.82 17.20M165.95 129.80L165.95 128.20M165.95 15.60L165.95 17.20M170.08 129.80L170.08 128.20M170.08 15.60L170.08 17.20M174.21 129.80L174.21 128.20M174.21 15.60L174.21 17.20M178.34 129.80L178.34 128.20M178.34 15.60L178.34 17.20M182.47 129.80L182.47 128.20M182.47 15.60L182.47 17.20M186.60 129.80L186.60 126.80M186.60 15.60L186.60 18.60M190.73 129.80L190.73 128.20M190.73 15.60L190.73 17.20M194.86 129.80L194.86 128.20M194.86 15.60L194.86 17.20M36.50 22.30L39.50 22.30M36.50 29.23L38.10 29.23M36.50 36.16L38.10 36.16M36.50 43.09L38.10 43.09M36.50 50.02L38.10 50.02M36.50 56.95L39.50 56.95M36.50 63.88L38.10 63.88M36.50 70.81L38.10 70.81M36.50 77.74L38.10 77.74M36.50 84.67L38.10 84.67M36.50 91.60L39.50 91.60M36.50 98.53L38.10 98.53M36.50 105.46L38.10 105.46M36.50 112.39L38.10 112.39M36.50 119.32L38.10 119.32M36.50 126.25L39.50 126.25" stroke="#000" stroke-width="0.9" fill="none"/>
<path d="M198.20 122.80L195.20 122.80M198.20 115.30L196.60 115.30M198.20 110.92L196.60 110.92M198.20 107.81L196.60 107.81M198.20 105.40L196.60 105.40M198.20 103.42L196.60 103.42M198.20 101.76L196.60 101.76M198.20 100.31L196.60 100.31M198.20 99.04L196.60 99.04M198.20 97.90L195.20 97.90M198.20 90.40L196.60 90.40M198.20 86.02L196.60 86.02M198.20 82.91L196.60 82.91M198.20 80.50L196.60 80.50M198.20 78.52L196.60 78.52M198.20 76.86L196.60 76.86M198.20 75.41L196.60 75.41M198.20 74.14L196.60 74.14M198.20 73.00L195.20 73.00M198.20 65.50L196.60 65.50M198.20 61.12L196.60 61.12M198.20 58.01L196.60 58.01M198.20 55.60L196.60 55.60M198.20 53.62L196.60 53.62M198.20 51.96L196.60 51.96M198.20 50.51L196.60 50.51M198.20 49.24L196.60 49.24M198.20 48.10L195.20 48.10M198.20 40.60L196.60 40.60M198.20 36.22L196.60 36.22M198.20 33.11L196.60 33.11M198.20 30.70L196.60 30.70M198.20 28.72L196.60 28.72M198.20 27.06L196.60 27.06M198.20 25.61L196.60 25.61M198.20 24.34L196.60 24.34M198.20 23.20L195.20 23.20M198.20 128.32L196.40 128.32M198.20 126.66L196.40 126.66M198.20 125.21L196.40 125.21M198.20 123.94L196.40 123.94" stroke="#ff3030" stroke-width="0.9" fill="none"/>
<path d="M198.2 15.6H36.5V129.8H198.2" stroke="#2a2a2a" stroke-width="1.2" fill="none"/>
<path d="M198.2 15.6V129.8" stroke="#ff3030" stroke-width="1.2" fill="none"/>
<polyline points="36.5,41.6 37.6,41.5 43.6,40.1 50.1,39.4 56.6,37.2 62.0,37.7 67.4,35.0 76.0,32.9 85.8,31.0 94.8,28.0 105.6,25.3 112.1,25.8 119.7,25.3 127.3,24.5 133.8,24.2 142.8,23.7 153.6,23.4 160.1,23.9 164.4,25.3 169.7,23.1 181.6,23.1 198.2,22.8" stroke="#444" stroke-width="1" stroke-dasharray="1 1.5" fill="none"/>
<polyline points="36.5,48.8 37.6,48.8 46.8,49.4 52.2,48.0 57.6,46.4 64.1,46.6 68.5,44.8 73.9,42.1 79.3,41.0 85.8,40.8 92.7,38.8 99.2,36.1 105.6,32.9 112.1,34.5 118.6,32.5 125.1,31.5 133.8,30.4 138.5,31.2 145.0,29.3 152.6,28.5 159.1,28.9 164.7,32.3 170.8,27.8 181.6,27.8 192.5,27.4 198.2,27.8" stroke="#ff3030" stroke-width="1.25" stroke-dasharray="3.8 3.2" fill="none"/>
<polyline points="36.5,115.4 50.5,114.5 59.6,114.0 67.8,114.0 76.0,112.2 94.2,112.2 101.5,114.0 116.0,113.1 126.9,112.3 133.0,114.7 139.9,113.5 152.0,116.1 157.2,114.0 165.0,113.5 172.0,115.8 184.1,117.0 198.2,114.2" stroke="#3a3a3a" stroke-width="1.15" fill="none"/>
<g transform="translate(0,-1.0)">
<path d="M47.1 70.8H73.1" stroke="#444" stroke-width="1" stroke-dasharray="1 1.5"/>
<path d="M47.1 78.7H73.1" stroke="#3a3a3a" stroke-width="1.2"/>
<text x="77.7" y="73.8" font-size="8.3" fill="#111" stroke="#111" stroke-width="0.14">e<tspan font-size="6.2" dy="-2.5" dx="0.4">&#8722;</tspan></text>
<g transform="translate(77.7,82) scale(1,1.08)"><text x="0" y="0" font-size="8.3" fill="#111" stroke="#111" stroke-width="0.14">H<tspan font-size="6" dy="2.2" dx="0.3">2</tspan></text></g>
<text x="152.6" y="80.3" font-size="8.5" fill="#ff3030" stroke="#ff3030" stroke-width="0.14">T</text>
<path d="M161 78.1H187" stroke="#ff3030" stroke-width="1.25" stroke-dasharray="3.8 3.4"/>
</g>
<g transform="translate(33.30,24.90) scale(1,1.12)"><text x="0" y="0" fill="#111" font-size="7.6" text-anchor="end" stroke="#111" stroke-width="0.14">10<tspan font-size="6.0" dy="-2.55">0</tspan></text></g>
<g transform="translate(33.30,59.55) scale(1,1.12)"><text x="0" y="0" fill="#111" font-size="7.6" text-anchor="end" stroke="#111" stroke-width="0.14">10<tspan font-size="6.0" dy="-2.55">&#8722;5</tspan></text></g>
<g transform="translate(33.30,94.20) scale(1,1.12)"><text x="0" y="0" fill="#111" font-size="7.6" text-anchor="end" stroke="#111" stroke-width="0.14">10<tspan font-size="6.0" dy="-2.55">&#8722;10</tspan></text></g>
<g transform="translate(33.30,128.85) scale(1,1.12)"><text x="0" y="0" fill="#111" font-size="7.6" text-anchor="end" stroke="#111" stroke-width="0.14">10<tspan font-size="6.0" dy="-2.55">&#8722;15</tspan></text></g>
<text transform="translate(7.9,72.6) rotate(-90)" font-size="8.1" text-anchor="middle" fill="#111" stroke="#111" stroke-width="0.14">fraction</text>
<text x="62.7" y="139.8" font-size="8.5" text-anchor="middle" fill="#111" stroke="#111" stroke-width="0.14">0.1</text>
<text x="104.0" y="139.8" font-size="8.5" text-anchor="middle" fill="#111" stroke="#111" stroke-width="0.14">0.2</text>
<text x="145.3" y="139.8" font-size="8.5" text-anchor="middle" fill="#111" stroke="#111" stroke-width="0.14">0.3</text>
<text x="186.6" y="139.8" font-size="8.5" text-anchor="middle" fill="#111" stroke="#111" stroke-width="0.14">0.4</text>
<text x="117.6" y="151.2" font-size="8.1" text-anchor="middle" fill="#111" stroke="#111" stroke-width="0.14"><tspan font-style="italic">r</tspan> [kpc/h]</text>
<g transform="translate(201.30,125.55) scale(1,1.12)"><text x="0" y="0" fill="#ff3030" font-size="7.6" text-anchor="start" stroke="#ff3030" stroke-width="0.14">10<tspan font-size="6.0" dy="-2.55">1</tspan></text></g>
<g transform="translate(201.30,100.65) scale(1,1.12)"><text x="0" y="0" fill="#ff3030" font-size="7.6" text-anchor="start" stroke="#ff3030" stroke-width="0.14">10<tspan font-size="6.0" dy="-2.55">2</tspan></text></g>
<g transform="translate(201.30,75.75) scale(1,1.12)"><text x="0" y="0" fill="#ff3030" font-size="7.6" text-anchor="start" stroke="#ff3030" stroke-width="0.14">10<tspan font-size="6.0" dy="-2.55">3</tspan></text></g>
<g transform="translate(201.30,50.85) scale(1,1.12)"><text x="0" y="0" fill="#ff3030" font-size="7.6" text-anchor="start" stroke="#ff3030" stroke-width="0.14">10<tspan font-size="6.0" dy="-2.55">4</tspan></text></g>
<g transform="translate(201.30,25.95) scale(1,1.12)"><text x="0" y="0" fill="#ff3030" font-size="7.6" text-anchor="start" stroke="#ff3030" stroke-width="0.14">10<tspan font-size="6.0" dy="-2.55">5</tspan></text></g>
<text transform="translate(225.5,72) rotate(-90)" font-size="8.5" text-anchor="middle" fill="#ff3030" stroke="#ff3030" stroke-width="0.14"><tspan font-style="italic">T</tspan>[K]</text>
<path d="M271.35 129.80L271.35 128.20M271.35 15.60L271.35 17.20M279.73 129.80L279.73 128.20M279.73 15.60L279.73 17.20M288.10 129.80L288.10 126.80M288.10 15.60L288.10 18.60M296.48 129.80L296.48 128.20M296.48 15.60L296.48 17.20M304.85 129.80L304.85 128.20M304.85 15.60L304.85 17.20M313.23 129.80L313.23 128.20M313.23 15.60L313.23 17.20M321.60 129.80L321.60 126.80M321.60 15.60L321.60 18.60M329.98 129.80L329.98 128.20M329.98 15.60L329.98 17.20M338.35 129.80L338.35 128.20M338.35 15.60L338.35 17.20M346.73 129.80L346.73 128.20M346.73 15.60L346.73 17.20M355.10 129.80L355.10 126.80M355.10 15.60L355.10 18.60M363.48 129.80L363.48 128.20M363.48 15.60L363.48 17.20M371.85 129.80L371.85 128.20M371.85 15.60L371.85 17.20M380.23 129.80L380.23 128.20M380.23 15.60L380.23 17.20M388.60 129.80L388.60 126.80M388.60 15.60L388.60 18.60M396.98 129.80L396.98 128.20M396.98 15.60L396.98 17.20M405.35 129.80L405.35 128.20M405.35 15.60L405.35 17.20M413.73 129.80L413.73 128.20M413.73 15.60L413.73 17.20M422.10 129.80L422.10 126.80M422.10 15.60L422.10 18.60M267.60 125.05L269.20 125.05M267.60 121.48L269.20 121.48M267.60 118.71L269.20 118.71M267.60 116.45L269.20 116.45M267.60 114.54L269.20 114.54M267.60 112.88L269.20 112.88M267.60 111.42L269.20 111.42M267.60 110.11L270.60 110.11M267.60 101.51L269.20 101.51M267.60 96.48L269.20 96.48M267.60 92.91L269.20 92.91M267.60 90.14L269.20 90.14M267.60 87.88L269.20 87.88M267.60 85.97L269.20 85.97M267.60 84.31L269.20 84.31M267.60 82.85L269.20 82.85M267.60 81.54L270.60 81.54M267.60 72.94L269.20 72.94M267.60 67.91L269.20 67.91M267.60 64.34L269.20 64.34M267.60 61.57L269.20 61.57M267.60 59.31L269.20 59.31M267.60 57.40L269.20 57.40M267.60 55.74L269.20 55.74M267.60 54.28L269.20 54.28M267.60 52.97L270.60 52.97M267.60 44.37L269.20 44.37M267.60 39.34L269.20 39.34M267.60 35.77L269.20 35.77M267.60 33.00L269.20 33.00M267.60 30.74L269.20 30.74M267.60 28.83L269.20 28.83M267.60 27.17L269.20 27.17M267.60 25.71L269.20 25.71M267.60 24.40L270.60 24.40M267.60 15.80L269.20 15.80" stroke="#000" stroke-width="0.9" fill="none"/>
<path d="M429.30 21.70L425.80 21.70M429.30 42.15L425.80 42.15M429.30 62.60L425.80 62.60M429.30 83.05L425.80 83.05M429.30 103.50L425.80 103.50M429.30 123.95L425.80 123.95" stroke="#3a3aff" stroke-width="1.0" fill="none"/>
<path d="M429.3 15.6H267.6V129.8H429.3" stroke="#2a2a2a" stroke-width="1.2" fill="none"/>
<path d="M429.3 15.6V129.8" stroke="#3a3aff" stroke-width="1.2" fill="none"/>
<polyline points="267.6,16.8 269.4,23.7 273.0,23.4 276.0,27.6 287.8,37.0 295.1,37.2 303.3,47.7 312.4,37.7 320.5,41.4 335.1,46.8 343.2,54.0 358.0,63.9 377.7,72.5 402.4,78.9 413.3,102.6 429.3,96.6" stroke="#3a3aff" stroke-width="1.2" stroke-dasharray="3.6 3" fill="none"/>
<polyline points="267.6,63.2 271.5,61.4 279.6,53.7 287.8,58.3 296.0,55.9 303.3,61.4 312.4,55.4 335.8,57.7 353.0,64.4 362.9,72.5 381.4,77.5 402.6,77.3 413.5,81.6 429.3,86.6" stroke="#3a3a3a" stroke-width="1.15" fill="none"/>
<polyline points="331.9,129.8 336.5,90.1 353.4,102.5 362.9,104.6 379.7,105.6 401.2,106.6 413.5,112.0 429.3,110.3" stroke="#444" stroke-width="1" stroke-dasharray="1 1.5" fill="none"/>
<g transform="translate(0,-0.7)">
<text x="392.6" y="28.8" font-size="7.6" letter-spacing="-0.1" text-anchor="end" fill="#111" stroke="#111" stroke-width="0.14">encl. M</text>
<path d="M397.1 26H419.8" stroke="#2a2a2a" stroke-width="1.05"/>
<text x="393" y="35.8" font-size="8" text-anchor="end" fill="#111" stroke="#111" stroke-width="0.14">H<tspan font-size="5.5" dy="1.8">2</tspan><tspan dy="-1.8">&#215;10</tspan><tspan font-size="5.5" dy="-3.2">5</tspan></text>
<path d="M397.1 33.6H419.8" stroke="#444" stroke-width="1" stroke-dasharray="1 1.5"/>
<text x="392.8" y="42.6" font-size="7.6" letter-spacing="-0.3" text-anchor="end" fill="#3a3aff" stroke="#3a3aff" stroke-width="0.14">dM/dt</text>
<path d="M397.1 40.8H421" stroke="#3a3aff" stroke-width="1.2" stroke-dasharray="3.6 3"/>
</g>
<g transform="translate(264.50,112.61) scale(1,1.12)"><text x="0" y="0" fill="#111" font-size="7.6" text-anchor="end" stroke="#111" stroke-width="0.14">10<tspan font-size="6.0" dy="-2.55">3</tspan></text></g>
<g transform="translate(264.50,84.04) scale(1,1.12)"><text x="0" y="0" fill="#111" font-size="7.6" text-anchor="end" stroke="#111" stroke-width="0.14">10<tspan font-size="6.0" dy="-2.55">4</tspan></text></g>
<g transform="translate(264.50,55.47) scale(1,1.12)"><text x="0" y="0" fill="#111" font-size="7.6" text-anchor="end" stroke="#111" stroke-width="0.14">10<tspan font-size="6.0" dy="-2.55">5</tspan></text></g>
<g transform="translate(264.50,26.90) scale(1,1.12)"><text x="0" y="0" fill="#111" font-size="7.6" text-anchor="end" stroke="#111" stroke-width="0.14">10<tspan font-size="6.0" dy="-2.55">6</tspan></text></g>
<text transform="translate(245.2,72.4) rotate(-90)" font-size="8" text-anchor="middle" fill="#111" stroke="#111" stroke-width="0.14"><tspan font-style="italic">M</tspan><tspan font-size="5.4" dy="1.6">gas</tspan><tspan dy="-1.6">[</tspan><tspan font-style="italic">M</tspan><tspan font-size="5.4" dy="1.6">Sun</tspan><tspan dy="-1.6">]</tspan></text>
<text x="288.1" y="139.8" font-size="8.5" text-anchor="middle" fill="#111" stroke="#111" stroke-width="0.14">10</text>
<text x="321.6" y="139.8" font-size="8.5" text-anchor="middle" fill="#111" stroke="#111" stroke-width="0.14">12</text>
<text x="355.1" y="139.8" font-size="8.5" text-anchor="middle" fill="#111" stroke="#111" stroke-width="0.14">14</text>
<text x="388.6" y="139.8" font-size="8.5" text-anchor="middle" fill="#111" stroke="#111" stroke-width="0.14">16</text>
<text x="422.1" y="139.8" font-size="8.5" text-anchor="middle" fill="#111" stroke="#111" stroke-width="0.14">18</text>
<text x="349" y="151.2" font-size="9" font-style="italic" text-anchor="middle" fill="#111" stroke="#111" stroke-width="0.14">z</text>
<g transform="translate(432.20,24.40) scale(1,1.12)"><text x="0" y="0" fill="#3a3aff" font-size="7.6" text-anchor="start" stroke="#3a3aff" stroke-width="0.14">10<tspan font-size="6.0" dy="-2.55">0</tspan></text></g>
<g transform="translate(432.20,44.85) scale(1,1.12)"><text x="0" y="0" fill="#3a3aff" font-size="7.6" text-anchor="start" stroke="#3a3aff" stroke-width="0.14">10<tspan font-size="6.0" dy="-2.55">&#8722;1</tspan></text></g>
<g transform="translate(432.20,65.30) scale(1,1.12)"><text x="0" y="0" fill="#3a3aff" font-size="7.6" text-anchor="start" stroke="#3a3aff" stroke-width="0.14">10<tspan font-size="6.0" dy="-2.55">&#8722;2</tspan></text></g>
<g transform="translate(432.20,85.75) scale(1,1.12)"><text x="0" y="0" fill="#3a3aff" font-size="7.6" text-anchor="start" stroke="#3a3aff" stroke-width="0.14">10<tspan font-size="6.0" dy="-2.55">&#8722;3</tspan></text></g>
<g transform="translate(432.20,106.20) scale(1,1.12)"><text x="0" y="0" fill="#3a3aff" font-size="7.6" text-anchor="start" stroke="#3a3aff" stroke-width="0.14">10<tspan font-size="6.0" dy="-2.55">&#8722;4</tspan></text></g>
<g transform="translate(432.20,126.65) scale(1,1.12)"><text x="0" y="0" fill="#3a3aff" font-size="7.6" text-anchor="start" stroke="#3a3aff" stroke-width="0.14">10<tspan font-size="6.0" dy="-2.55">&#8722;5</tspan></text></g>
<text transform="translate(459.5,72.7) rotate(-90)" font-size="8.5" text-anchor="middle" fill="#3a3aff" stroke="#3a3aff" stroke-width="0.14">dM/dt [<tspan font-style="italic">M</tspan><tspan font-size="6" dy="1.8">Sun</tspan><tspan dy="-1.8">/yr]</tspan></text>
</g>
</svg>
</body></html>
